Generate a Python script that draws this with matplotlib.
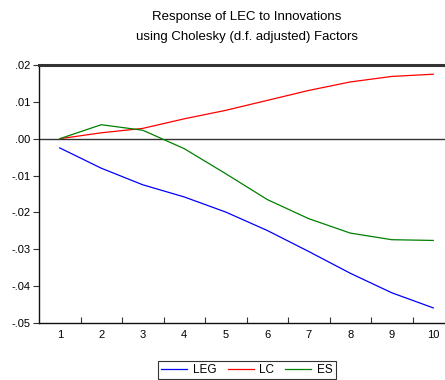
import matplotlib
matplotlib.use("Agg")
import matplotlib.pyplot as plt
from matplotlib.ticker import FixedLocator, FuncFormatter

plt.rcParams['font.family'] = ['Liberation Sans', 'DejaVu Sans']

periods = [1, 2, 3, 4, 5, 6, 7, 8, 9, 10]
leg = [-0.0025, -0.0080, -0.0125, -0.0158, -0.0199, -0.0249, -0.0306, -0.0365, -0.0418, -0.0459]
lc = [0.0000, 0.0016, 0.0028, 0.0054, 0.0077, 0.0104, 0.0131, 0.0154, 0.0169, 0.0175]
es = [0.0000, 0.0038, 0.0023, -0.0027, -0.0095, -0.0165, -0.0217, -0.0256, -0.0274, -0.0276]
y_ticks = [-0.05, -0.04, -0.03, -0.02, -0.01, 0.00, 0.01, 0.02]

fig = plt.figure(figsize=(4.45, 3.8), dpi=100)
ax = fig.add_axes([39/445, 1-323/380, 415/445, (323-65)/380])

ax.plot(periods, leg, color='#0000ff', lw=0.9, label='LEG')
ax.plot(periods, lc, color='#ff0000', lw=0.9, label='LC')
ax.plot(periods, es, color='#008000', lw=0.9, label='ES')
ax.axhline(0, color='#333333', lw=1.0, zorder=1)

ax.set_xlim(0.5, 10.5)
ax.set_ylim(-0.05, 0.02)

ax.yaxis.set_major_locator(FixedLocator(y_ticks))
def yfmt(v, pos):
    s = f"{v:.2f}"
    s = s.replace("0.", ".")
    if s == "-.00":
        s = ".00"
    return s
ax.yaxis.set_major_formatter(FuncFormatter(yfmt))
ax.tick_params(axis='y', direction='out', length=4, width=0.8, labelsize=8, pad=2, color='#333333')

ax.set_xticks(periods)
ax.set_xticklabels([str(p) for p in periods])
ax.tick_params(axis='x', which='major', length=0, labelsize=8, pad=5)
ax.set_xticks([p + 0.5 for p in periods[:-1]], minor=True)
ax.tick_params(axis='x', which='minor', direction='in', length=4, width=0.8, color='#333333')

ax.spines['top'].set_linewidth(2.2)
ax.spines['top'].set_color('#333333')
ax.spines['bottom'].set_linewidth(1.0)
ax.spines['bottom'].set_color('#111111')
ax.spines['left'].set_linewidth(1.0)
ax.spines['left'].set_color('#111111')
ax.spines['right'].set_visible(False)

fig.text(247/445, 1-17/380, "Response of LEC to Innovations", ha='center', va='center', fontsize=9.5)
fig.text(247/445, 1-37/380, "using Cholesky (d.f. adjusted) Factors", ha='center', va='center', fontsize=9.5)

leg_obj = fig.legend(loc='center', bbox_to_anchor=(247/445, 1-370/380), ncol=3, fontsize=8.5,
                     frameon=True, fancybox=False, edgecolor='#000000', handlelength=2.2,
                     handletextpad=0.5, columnspacing=0.9, borderpad=0.25, borderaxespad=0)
leg_obj.get_frame().set_linewidth(0.8)

fig.savefig("out.png", dpi=100)
